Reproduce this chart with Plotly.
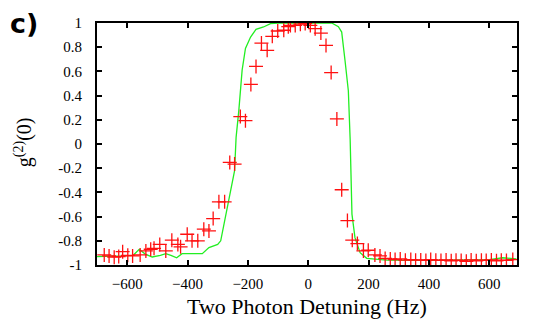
import plotly.graph_objects as go

# Red measured points
meas_x = [-676, -660, -643, -628, -615, -598, -582, -557, -538, -522, -511, -492, -472, -452,
          -432, -423, -401, -385, -366, -346, -329, -315, -296, -277, -260, -244, -225, -208,
          -190, -173, -155, -136, -119, -101, -81, -66, -59, -43, -26, -10, 7, 23, 42, 59, 76,
          95, 111, 130, 146, 163, 183, 199, 221, 238, 255, 272, 288, 305, 322, 340, 356, 373,
          390, 406, 423, 440, 457, 474, 490, 507, 524, 540, 557, 574, 590, 607, 624, 640, 657, 678]
meas_y = [-0.917, -0.925, -0.935, -0.93, -0.89, -0.92, -0.925, -0.917, -0.884, -0.87, -0.862,
          -0.83, -0.884, -0.795, -0.83, -0.85, -0.746, -0.80, -0.80, -0.704, -0.718, -0.616,
          -0.478, -0.478, -0.152, -0.166, 0.227, 0.193, 0.492, 0.641, 0.834, 0.774, 0.89, 0.934,
          0.94, 0.97, 0.98, 0.98, 0.99, 0.995, 0.98, 0.953, 0.917, 0.815, 0.59, 0.207, -0.378,
          -0.633, -0.795, -0.823, -0.884, -0.878, -0.917, -0.925, -0.946, -0.95, -0.955, -0.95,
          -0.96, -0.955, -0.96, -0.958, -0.962, -0.955, -0.96, -0.962, -0.958, -0.965, -0.96,
          -0.962, -0.97, -0.958, -0.965, -0.96, -0.962, -0.958, -0.965, -0.96, -0.962, -0.955]

# Green theory curve
theo_x = [-700, -660, -620, -580, -560, -540, -517, -490, -472, -455, -436, -418, -380, -351,
          -329, -300, -290, -274, -260, -244, -239, -230, -219, -208, -191, -173, -148, -125,
          -100, 0, 78, 100, 111, 122, 133, 139, 141, 145, 155, 172, 194, 230, 260, 400, 550,
          600, 645, 690]
theo_y = [-0.93, -0.93, -0.925, -0.92, -0.87, -0.91, -0.934, -0.92, -0.906, -0.92, -0.94,
          -0.906, -0.906, -0.906, -0.856, -0.83, -0.80, -0.608, -0.42, -0.22, 0.055, 0.276,
          0.61, 0.79, 0.884, 0.948, 0.967, 0.995, 1.0, 1.0, 1.0, 0.97, 0.925, 0.69, 0.44, 0.04,
          -0.166, -0.58, -0.774, -0.898, -0.945, -0.955, -0.96, -0.962, -0.96, -0.955, -0.94,
          -0.95]

x_ticks = [-600, -400, -200, 0, 200, 400, 600]
y_ticks = [1, 0.8, 0.6, 0.4, 0.2, 0, -0.2, -0.4, -0.6, -0.8, -1]
y_labels = ["1", "0.8", "0.6", "0.4", "0.2", "0", "-0.2", "-0.4", "-0.6", "-0.8", "-1"]

fig = go.Figure()
fig.add_trace(go.Scatter(x=theo_x, y=theo_y, mode="lines",
                         line=dict(color="#22ee22", width=1.3), showlegend=False))
fig.add_trace(go.Scatter(x=meas_x, y=meas_y, mode="markers",
                         marker=dict(symbol="cross-thin", size=10,
                                     line=dict(color="#ff1010", width=1.3)),
                         showlegend=False))

serif = "Liberation Serif, Times New Roman, serif"
axis_common = dict(showline=True, linecolor="black", linewidth=2, mirror="ticks",
                   ticks="inside", ticklen=5, tickwidth=2, tickcolor="black",
                   showgrid=False, zeroline=False, automargin=False,
                   tickfont=dict(family=serif, size=15, color="black"))

fig.update_xaxes(range=[-700, 692], tickvals=x_ticks, ticklabelstandoff=4, **axis_common)
fig.update_yaxes(range=[-1, 1], tickvals=y_ticks, ticktext=y_labels,
                 ticklabelstandoff=10, **axis_common)

# x-axis title
fig.add_annotation(text="Two Photon Detuning (Hz)", xref="paper", yref="paper",
                   x=0.5, y=-0.17, xanchor="center", yanchor="middle", showarrow=False,
                   font=dict(family=serif, size=22, color="black"))
# y-axis title
fig.add_annotation(text="g<sup>(2)</sup>(0)", xref="paper", yref="paper",
                   x=-0.176, y=0.508, xanchor="center", yanchor="middle", showarrow=False,
                   textangle=-90, font=dict(family=serif, size=20, color="black"))
# panel label
fig.add_annotation(text="<b>c)</b>", xref="paper", yref="paper", x=-0.212, y=1.0,
                   xanchor="left", yanchor="middle", showarrow=False,
                   font=dict(family="DejaVu Sans", size=27, color="black"))

fig.update_layout(width=546, height=311, paper_bgcolor="white", plot_bgcolor="white",
                  margin=dict(l=89, r=37, t=15, b=54))

fig.write_html("out.html")
